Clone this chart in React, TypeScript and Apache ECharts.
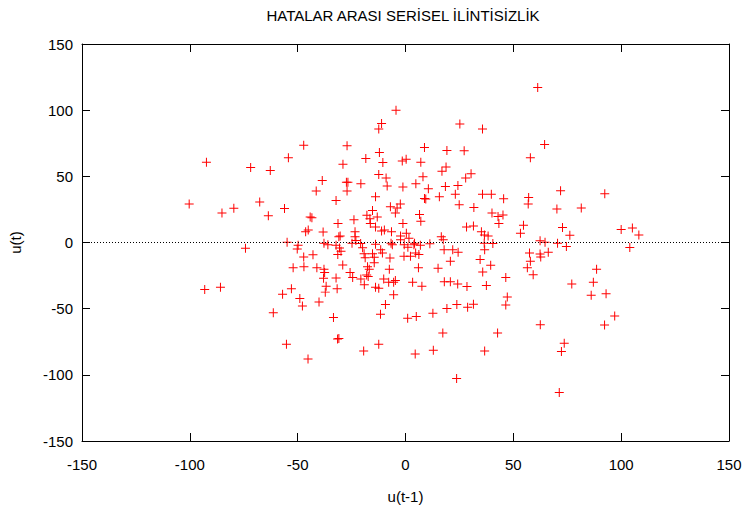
import React, { useEffect, useRef } from "react";
import * as echarts from "echarts";

const TITLE = "HATALAR ARASI SERİSEL İLİNTİSİZLİK";
const X_NAME = "u(t-1)";
const Y_NAME = "u(t)";
const AXIS_MIN = -150;
const AXIS_MAX = 150;
const AXIS_STEP = 50;

// u(t-1)
const uPrev: number[] = [
  61.3, -4.4, -11.1, -12.4, 25.2, 35.7, 64.5, -47.2, -27.1, 8.8, 19.2, 27.2, -12.1, 57.9, -54.3, -18.4, 0.3, -1.5, 7.1, -10.5,
  -92.3, -29, 18.8, -71.8, -62.7, 16.9, 30.4, -12.4, -9, 27.9, 8.1, -38.6, -27.4, -26.7, 4.8, -20.7, 24.3, -8.5, 18.5, -1.2,
  10.6, 71.9, -41.4, -27.1, 92.4, 23.1, 35.7, 39.8, -13.9, 15.7, 57.1, 8.8, 9.4, 45.5, -32.2, -67.6, -100.3, 56.9, -2.4, 24.9,
  -7, 31.7, 81.5, -3.9, -79.6, -56.1, 70.2, -15.3, -85.1, -4.7, 40.1, 6.5, -17.9, 45.2, -63.6, 42.9, -44.2, -43.4, -13.1, -16.5,
  -23.9, 7.1, -16.3, -31.3, -1.2, 43.3, 54.7, 31.5, -13.9, 28.3, 72.8, 105.2, 100, -45.1, -9.8, -46.3, -38.2, -23.4, -6.5, 35.2,
  -11.1, 0.4, 53.3, 36.6, 108.2, 76.2, -30.3, 38.3, -2.3, 16.6, -23.4, -30.9, 1.6, -23, 17.5, -2.3, 62.4, -54.9, 64.7, -37.8,
  70.5, -13.9, -6.7, -0.6, 4.2, 36.5, 40.5, -20.8, -24.8, -36, -32.2, -6.1, 3.9, 6.9, 11.3, -49.8, -50.2, -74.2, 74.6, 104,
  1.1, -19.9, -30.6, 36.7, 17.9, 21.9, -11.5, -29.9, 24.4, -19.2, 66.2, 4.7, 57.5, -15.3, -10.7, 62.4, -31.4, 6.2, -42.9, -0.7,
  2.3, -14.5, -18.7, -47.2, 62.7, -7.2, 34.6, 20.8, 57.9, -14.5, -29.1, 39.5, -47.1, -17.6, -41.1, -52.1, 56.5, 6, 15.1, -37.8,
  -16.8, -7.5, 88.6, 35.8, -37.5, -25.7, 59.2, -18, -17.3, -24.5, 46.5, -32.2, -38, -20.7, -10.1, -4.7, 18, 20.8, -7.8, -5.5,
  87.1, 3.3, 24.2, 77.1, -19.1, 37.5, 7.6, 28.5, -36.8, -85.8, -13.9, -12.4, -31.7, -52.9, -93.1, -37.2, -57, -5.5, 86.1, 93,
  47.2, -49, -40.1, -9.3, 23.8, 31.5, 46.5, -47.8, 28.8, 19.2, -61.3, 12.7, -11.6, 97, 5, -33.4, 1, 62.5, 92.3, 17.3,
  42.7, -30.9, -31.5, 73.6, -55.2, -12.4, 12.9, -19.4, 36.7, 72.3, 4.5, -45.2, 23.7, 71.3,
];

// u(t)
const uCurr: number[] = [
  117.1, 99.9, 90, 85.8, 89.5, 85.8, 74, 73.4, 73.2, 71.7, 69.5, 69.3, 68, 64.1, 64.1, 63.4, 63, 61.5, 60.7, 60.4,
  60.7, 59.2, 57, 56.7, 54.5, 53.8, 52, 51.3, 48.8, 48.8, 49.6, 46.8, 45.6, 45.6, 44.4, 44.4, 43.1, 42.7, 42.4, 41.9,
  40.7, 39.2, 39, 39, 36.8, 36.5, 36.5, 36.5, 34.5, 34.5, 34, 33.3, 32.8, 33.1, 31.8, 30.6, 29.1, 29.1, 29.1, 28.6,
  27.1, 26.4, 26.1, 26.1, 25.9, 25.7, 25.4, 24.2, 22.2, 22.2, 22.2, 21.2, 20.5, 20.7, 20.2, 19.7, 19.2, 18.7, 19.2, 18,
  17.2, 16, 14.3, 14.3, 14.3, 14.3, 13.1, 12.4, 11.8, 11.8, 11.3, 10.9, 9.8, 9.4, 9.4, 8.1, 7.9, 8.1, 8.1, 8.1,
  8.7, 6.9, 6.9, 5.7, 5.7, 5.4, 5, 5, 5, 4.4, 4.4, 4.4, 3.2, 1.5, 2, 2, 1.3, 0.2, 0.2, -0.5,
  -0.5, -1.3, -0.5, -1.7, -0.5, -0.5, -0.8, -0.8, -0.5, -1.7, -2, -1.7, -1.7, -2, -1, -2, -5, -4.4, -3, -3.7,
  -3.5, -4, -4.2, -5.4, -5.4, -5.4, -5.4, -6.7, -7.4, -8.5, -7.4, -7.9, -7.9, -8.5, -7.9, -8.7, -9.1, -9.1, -9.3, -10.4,
  -10.4, -11.1, -11.6, -10.9, -10.9, -11.8, -12.8, -14.1, -14.1, -15.3, -17, -17.2, -18.3, -18.3, -19, -19, -19, -19, -19.5, -20.2,
  -20.2, -20.2, -20.2, -22.2, -22.7, -22.7, -24.4, -24.6, -25.7, -26.4, -26.4, -26.8, -27.1, -27.6, -27.6, -28.8, -29.6, -29.6, -30.1, -30.1,
  -30.1, -30.1, -31.3, -31.3, -32, -32.5, -33, -33.3, -33.1, -33.8, -33.8, -34.5, -35, -35, -35.5, -37.5, -39.2, -39.4, -39.9, -38.7,
  -41.2, -42.4, -44.9, -46.8, -46.8, -46.6, -47.3, -47.9, -49, -49.8, -53, -53.5, -54.2, -55.5, -56, -56.7, -57.2, -62.1, -62.4, -68.3,
  -68.3, -72.5, -73, -76.2, -76.9, -76.9, -81.4, -81.9, -81.9, -82.3, -84.3, -88, -102.8, -113.4,
];

const FONT = "'Liberation Sans', Arial, sans-serif";
const CROSS = "path://M0,4h9v1h-9z M4,0h1v9h-1z";

export default function App() {
  const ref = useRef<HTMLDivElement>(null);

  useEffect(() => {
    if (!ref.current) return;
    const chart = echarts.init(ref.current, undefined, { renderer: "svg" });
    const n = Math.min(uPrev.length, uCurr.length);
    const points: number[][] = [];
    for (let i = 0; i < n; i++) points.push([uPrev[i], uCurr[i]]);

    const baseAxis = {
      min: AXIS_MIN,
      max: AXIS_MAX,
      interval: AXIS_STEP,
      splitLine: { show: false },
      axisLine: { show: true, onZero: false, lineStyle: { color: "#000", width: 1 } },
      axisTick: { show: true, inside: true, length: 8, lineStyle: { color: "#000", width: 1 } },
    };

    chart.setOption({
      animation: false,
      backgroundColor: "#fff",
      graphic: [
        {
          type: "text",
          x: 403,
          y: 15,
          style: {
            text: TITLE,
            fontFamily: FONT,
            fontSize: 15,
            fill: "#000",
            align: "center",
            verticalAlign: "middle",
          },
        },
      ],
      grid: { left: 77, right: 17, top: 44, bottom: 60, containLabel: false },
      xAxis: [
        {
          ...baseAxis,
          type: "value",
          position: "bottom",
          name: X_NAME,
          nameLocation: "middle",
          nameGap: 48,
          nameTextStyle: { fontFamily: FONT, fontSize: 15, color: "#000" },
          axisLabel: { fontFamily: FONT, fontSize: 15, color: "#000", margin: 16 },
        },
        {
          ...baseAxis,
          type: "value",
          position: "top",
          axisLabel: { show: false },
        },
      ],
      yAxis: [
        {
          ...baseAxis,
          type: "value",
          position: "left",
          name: Y_NAME,
          nameLocation: "middle",
          nameGap: 59,
          nameTextStyle: { fontFamily: FONT, fontSize: 15, color: "#000" },
          axisLabel: { fontFamily: FONT, fontSize: 15, color: "#000", margin: 9 },
        },
        {
          ...baseAxis,
          type: "value",
          position: "right",
          axisLabel: { show: false },
        },
      ],
      series: [
        {
          type: "scatter",
          xAxisIndex: 0,
          yAxisIndex: 0,
          data: points,
          symbol: CROSS,
          symbolSize: 9,
          itemStyle: { color: "#ff0000", opacity: 1 },
          markLine: {
            silent: true,
            symbol: "none",
            label: { show: false },
            lineStyle: { color: "#000", width: 1, type: [1, 2] },
            data: [{ yAxis: 0 }],
          },
          z: 3,
        },
      ],
    });

    return () => chart.dispose();
  }, []);

  return (
    <div
      ref={ref}
      style={{ position: "fixed", left: 0, top: 0, width: 746, height: 509, background: "#fff" }}
    />
  );
}
